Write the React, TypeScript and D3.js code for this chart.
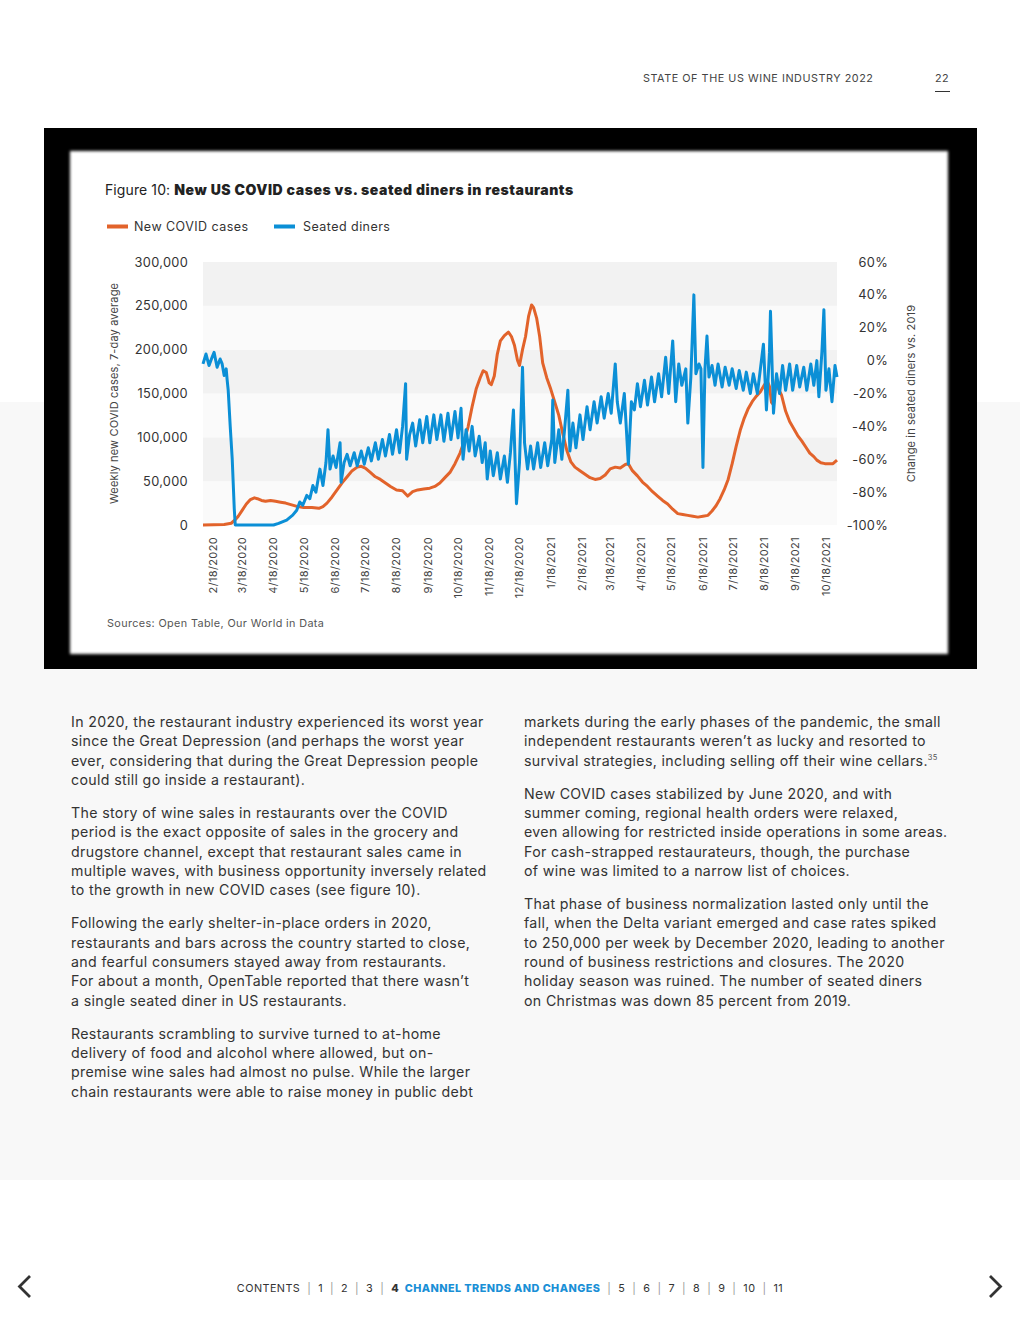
import React from 'react';
import * as d3 from 'd3';

// ---------- DATA ----------
const xTickLabels = [
  '2/18/2020', '3/18/2020', '4/18/2020', '5/18/2020', '6/18/2020', '7/18/2020', '8/18/2020',
  '9/18/2020', '10/18/2020', '11/18/2020', '12/18/2020', '1/18/2021', '2/18/2021', '3/18/2021',
  '4/18/2021', '5/18/2021', '6/18/2021', '7/18/2021', '8/18/2021', '9/18/2021', '10/18/2021',
];
const leftTicks = [0, 50000, 100000, 150000, 200000, 250000, 300000];
const rightTicks = [-100, -80, -60, -40, -20, 0, 20, 40, 60];

// New COVID cases, 7-day average (thousands)
const covidCases: [string, number][] = [
  ['2020-02-18', 0], ['2020-03-10', 0.5], ['2020-03-17', 2], ['2020-03-21', 6], ['2020-03-24', 10],
  ['2020-03-28', 17], ['2020-04-01', 24], ['2020-04-05', 29], ['2020-04-09', 31], ['2020-04-12', 30],
  ['2020-04-16', 28], ['2020-04-20', 27], ['2020-04-25', 28], ['2020-04-30', 27], ['2020-05-05', 26],
  ['2020-05-10', 25], ['2020-05-16', 23], ['2020-05-22', 21], ['2020-05-28', 20], ['2020-06-05', 20],
  ['2020-06-12', 19], ['2020-06-16', 21], ['2020-06-20', 25], ['2020-06-25', 32], ['2020-06-30', 40],
  ['2020-07-05', 48], ['2020-07-10', 55], ['2020-07-15', 62], ['2020-07-20', 66], ['2020-07-24', 67],
  ['2020-07-28', 65], ['2020-08-02', 60], ['2020-08-07', 55], ['2020-08-12', 52], ['2020-08-17', 48],
  ['2020-08-22', 44], ['2020-08-28', 40], ['2020-09-03', 39], ['2020-09-08', 33], ['2020-09-13', 38],
  ['2020-09-18', 40], ['2020-09-24', 41], ['2020-09-30', 42], ['2020-10-05', 44], ['2020-10-10', 48],
  ['2020-10-15', 54], ['2020-10-20', 60], ['2020-10-25', 70], ['2020-10-30', 82], ['2020-11-03', 95],
  ['2020-11-07', 112], ['2020-11-11', 135], ['2020-11-15', 155], ['2020-11-19', 168], ['2020-11-22', 176],
  ['2020-11-25', 174], ['2020-11-28', 162], ['2020-11-30', 160], ['2020-12-03', 170], ['2020-12-06', 195],
  ['2020-12-09', 210], ['2020-12-13', 216], ['2020-12-17', 220], ['2020-12-20', 215], ['2020-12-23', 205],
  ['2020-12-26', 188], ['2020-12-28', 182], ['2020-12-31', 200], ['2021-01-03', 215], ['2021-01-06', 238],
  ['2021-01-09', 251], ['2021-01-11', 248], ['2021-01-14', 236], ['2021-01-17', 215], ['2021-01-20', 185],
  ['2021-01-24', 168], ['2021-01-28', 155], ['2021-02-01', 140], ['2021-02-05', 125], ['2021-02-09', 104],
  ['2021-02-13', 85], ['2021-02-17', 72], ['2021-02-21', 66], ['2021-02-26', 62], ['2021-03-03', 58],
  ['2021-03-08', 54], ['2021-03-13', 52], ['2021-03-18', 53], ['2021-03-23', 57], ['2021-03-28', 64],
  ['2021-04-02', 66], ['2021-04-07', 65], ['2021-04-12', 69], ['2021-04-15', 70], ['2021-04-19', 62],
  ['2021-04-24', 56], ['2021-04-29', 49], ['2021-05-04', 44], ['2021-05-09', 38], ['2021-05-14', 33],
  ['2021-05-19', 28], ['2021-05-24', 24], ['2021-05-29', 18], ['2021-06-03', 13], ['2021-06-08', 12],
  ['2021-06-13', 11], ['2021-06-18', 10], ['2021-06-23', 9], ['2021-06-28', 10], ['2021-07-03', 11],
  ['2021-07-07', 16], ['2021-07-11', 22], ['2021-07-15', 30], ['2021-07-19', 40], ['2021-07-23', 52],
  ['2021-07-27', 70], ['2021-07-31', 90], ['2021-08-04', 108], ['2021-08-08', 122], ['2021-08-12', 133],
  ['2021-08-16', 141], ['2021-08-20', 147], ['2021-08-24', 152], ['2021-08-28', 160], ['2021-08-31', 164],
  ['2021-09-02', 158], ['2021-09-04', 140], ['2021-09-06', 137], ['2021-09-08', 160], ['2021-09-09', 167],
  ['2021-09-11', 155], ['2021-09-14', 148], ['2021-09-18', 130], ['2021-09-22', 118], ['2021-09-26', 110],
  ['2021-09-30', 102], ['2021-10-04', 96], ['2021-10-08', 89], ['2021-10-12', 82], ['2021-10-16', 78],
  ['2021-10-19', 74], ['2021-10-23', 71], ['2021-10-27', 70], ['2021-10-31', 70], ['2021-11-04', 70],
  ['2021-11-08', 74],
];

// Seated diners, % change vs. 2019
const seatedDiners: [string, number][] = [
  ['2020-02-18', -2], ['2020-02-21', 4], ['2020-02-24', -3], ['2020-02-27', 2], ['2020-02-29', 5],
  ['2020-03-03', -4], ['2020-03-06', 1], ['2020-03-08', -2], ['2020-03-10', -9], ['2020-03-12', -5],
  ['2020-03-13', -12], ['2020-03-14', -18], ['2020-03-16', -40], ['2020-03-18', -60], ['2020-03-20', -90],
  ['2020-03-21', -100], ['2020-04-28', -100], ['2020-05-03', -99], ['2020-05-11', -97], ['2020-05-17', -94],
  ['2020-05-21', -91], ['2020-05-24', -86], ['2020-05-27', -88], ['2020-05-31', -82], ['2020-06-03', -84],
  ['2020-06-06', -76], ['2020-06-09', -80], ['2020-06-13', -66], ['2020-06-16', -76], ['2020-06-19', -62],
  ['2020-06-21', -42], ['2020-06-23', -66], ['2020-06-26', -58], ['2020-06-29', -65], ['2020-07-03', -50],
  ['2020-07-04', -74], ['2020-07-07', -62], ['2020-07-10', -57], ['2020-07-13', -64], ['2020-07-17', -56],
  ['2020-07-20', -64], ['2020-07-24', -55], ['2020-07-27', -63], ['2020-07-31', -53], ['2020-08-03', -61],
  ['2020-08-07', -50], ['2020-08-10', -60], ['2020-08-14', -48], ['2020-08-17', -58], ['2020-08-21', -45],
  ['2020-08-24', -57], ['2020-08-28', -42], ['2020-08-31', -56], ['2020-09-03', -40], ['2020-09-06', -14],
  ['2020-09-07', -60], ['2020-09-10', -45], ['2020-09-13', -38], ['2020-09-16', -52], ['2020-09-20', -36],
  ['2020-09-23', -50], ['2020-09-27', -34], ['2020-09-30', -50], ['2020-10-04', -33], ['2020-10-07', -48],
  ['2020-10-11', -33], ['2020-10-14', -49], ['2020-10-18', -32], ['2020-10-21', -48], ['2020-10-25', -31],
  ['2020-10-28', -47], ['2020-10-31', -29], ['2020-11-02', -60], ['2020-11-05', -42], ['2020-11-08', -55],
  ['2020-11-11', -40], ['2020-11-14', -58], ['2020-11-18', -46], ['2020-11-21', -62], ['2020-11-24', -50],
  ['2020-11-26', -72], ['2020-11-29', -55], ['2020-12-02', -70], ['2020-12-06', -56], ['2020-12-09', -72],
  ['2020-12-13', -58], ['2020-12-16', -74], ['2020-12-19', -56], ['2020-12-22', -30], ['2020-12-25', -87],
  ['2020-12-28', -62], ['2020-12-31', -4], ['2021-01-02', -50], ['2021-01-05', -66], ['2021-01-08', -52],
  ['2021-01-11', -66], ['2021-01-15', -50], ['2021-01-18', -65], ['2021-01-22', -50], ['2021-01-25', -64],
  ['2021-01-29', -48], ['2021-01-30', -24], ['2021-02-01', -62], ['2021-02-05', -42], ['2021-02-08', -60],
  ['2021-02-11', -40], ['2021-02-14', -18], ['2021-02-16', -55], ['2021-02-19', -38], ['2021-02-22', -53],
  ['2021-02-26', -33], ['2021-03-01', -48], ['2021-03-05', -28], ['2021-03-08', -42], ['2021-03-12', -25],
  ['2021-03-15', -38], ['2021-03-19', -22], ['2021-03-22', -35], ['2021-03-26', -20], ['2021-03-29', -32],
  ['2021-04-02', -2], ['2021-04-04', -25], ['2021-04-07', -38], ['2021-04-11', -20], ['2021-04-15', -63],
  ['2021-04-18', -25], ['2021-04-21', -30], ['2021-04-24', -14], ['2021-04-27', -28], ['2021-05-01', -12],
  ['2021-05-04', -27], ['2021-05-08', -10], ['2021-05-11', -25], ['2021-05-15', -8], ['2021-05-18', -22],
  ['2021-05-22', 2], ['2021-05-25', -20], ['2021-05-29', 12], ['2021-06-01', -25], ['2021-06-04', -2],
  ['2021-06-07', -15], ['2021-06-11', -5], ['2021-06-13', -38], ['2021-06-16', -10], ['2021-06-19', 40],
  ['2021-06-21', -8], ['2021-06-24', -2], ['2021-06-26', -5], ['2021-06-28', -65], ['2021-06-30', -5],
  ['2021-07-02', 15], ['2021-07-04', -10], ['2021-07-07', -3], ['2021-07-10', -15], ['2021-07-13', -2],
  ['2021-07-17', -16], ['2021-07-20', -4], ['2021-07-24', -15], ['2021-07-27', -5], ['2021-07-31', -17],
  ['2021-08-03', -6], ['2021-08-07', -18], ['2021-08-10', -7], ['2021-08-14', -20], ['2021-08-17', -8],
  ['2021-08-21', -20], ['2021-08-24', -5], ['2021-08-27', 10], ['2021-08-30', -30], ['2021-09-02', 5],
  ['2021-09-03', 30], ['2021-09-06', -32], ['2021-09-09', -8], ['2021-09-12', -20], ['2021-09-15', -3],
  ['2021-09-18', -18], ['2021-09-22', -2], ['2021-09-25', -18], ['2021-09-29', -3], ['2021-10-02', -16],
  ['2021-10-06', -4], ['2021-10-09', -18], ['2021-10-13', -2], ['2021-10-16', -15], ['2021-10-19', 0],
  ['2021-10-21', -22], ['2021-10-24', 5], ['2021-10-26', 31], ['2021-10-28', -18], ['2021-10-31', -5],
  ['2021-11-03', -25], ['2021-11-06', -3], ['2021-11-08', -10],
];

const leftColumn = [
  ['In 2020, the restaurant industry experienced its worst year',
    'since the Great Depression (and perhaps the worst year',
    'ever, considering that during the Great Depression people',
    'could still go inside a restaurant).'],
  ['The story of wine sales in restaurants over the COVID',
    'period is the exact opposite of sales in the grocery and',
    'drugstore channel, except that restaurant sales came in',
    'multiple waves, with business opportunity inversely related',
    'to the growth in new COVID cases (see figure 10).'],
  ['Following the early shelter-in-place orders in 2020,',
    'restaurants and bars across the country started to close,',
    'and fearful consumers stayed away from restaurants.',
    'For about a month, OpenTable reported that there wasn\u2019t',
    'a single seated diner in US restaurants.'],
  ['Restaurants scrambling to survive turned to at-home',
    'delivery of food and alcohol where allowed, but on-',
    'premise wine sales had almost no pulse. While the larger',
    'chain restaurants were able to raise money in public debt'],
];
const rightColumn = [
  ['markets during the early phases of the pandemic, the small',
    'independent restaurants weren\u2019t as lucky and resorted to',
    'survival strategies, including selling off their wine cellars.'],
  ['New COVID cases stabilized by June 2020, and with',
    'summer coming, regional health orders were relaxed,',
    'even allowing for restricted inside operations in some areas.',
    'For cash-strapped restaurateurs, though, the purchase',
    'of wine was limited to a narrow list of choices.'],
  ['That phase of business normalization lasted only until the',
    'fall, when the Delta variant emerged and case rates spiked',
    'to 250,000 per week by December 2020, leading to another',
    'round of business restrictions and closures. The 2020',
    'holiday season was ruined. The number of seated diners',
    'on Christmas was down 85 percent from 2019.'],
];
const footerPages = ['1', '2', '3'];
const footerPagesAfter = ['5', '6', '7', '8', '9', '10', '11'];

// ---------- STYLE ----------
const ORANGE = '#e2632b';
const BLUE = '#0b8fd6';
const FONT = 'Inter, "Noto Sans", sans-serif';

const parse = d3.timeParse('%Y-%m-%d');
const parseLabel = d3.timeParse('%m/%d/%Y');

export default function App() {
  const plot = { left: 203, right: 837, top: 262, bottom: 525 };
  const x = d3.scaleTime()
    .domain([parse('2020-02-18') as Date, parse('2021-11-08') as Date])
    .range([plot.left, plot.right]);
  const yL = d3.scaleLinear().domain([0, 300000]).range([plot.bottom, plot.top]);
  const yR = d3.scaleLinear().domain([-100, 60]).range([plot.bottom, plot.top]);

  const covidLine = d3.line<[string, number]>()
    .x(d => x(parse(d[0]) as Date))
    .y(d => yL(d[1] * 1000));
  const dinerLine = d3.line<[string, number]>()
    .x(d => x(parse(d[0]) as Date))
    .y(d => yR(d[1]));

  const labelShift = 10;
  const fmt = d3.format(',');

  const lineH = 19.35;
  const paraGap = 13.6;
  const renderColumn = (paras: string[][], x0: number, y0: number) => {
    const out: React.ReactNode[] = [];
    let y = y0;
    paras.forEach((p, pi) => {
      p.forEach((line, li) => {
        const isLast = paras === rightColumn && pi === 0 && li === p.length - 1;
        out.push(
          <text key={`${x0}-${pi}-${li}`} x={x0} y={y} fontSize={14.2} fill="#333" fontFamily={FONT} letterSpacing={0.34}>
            {line}
            {isLast ? <tspan fontSize={7.5} dy={-6} fill="#555">35</tspan> : null}
          </text>
        );
        y += lineH;
      });
      y += paraGap;
    });
    return out;
  };

  return (
    <svg width={1020} height={1320} style={{ position: 'absolute', left: 0, top: 0 }} fontFamily={FONT}>
      <defs>
        <filter id="soft" x="-5%" y="-5%" width="110%" height="110%">
          <feGaussianBlur stdDeviation="1.8" />
        </filter>
      </defs>
      <rect x={0} y={0} width={1020} height={1320} fill="#fff" />
      <rect x={0} y={402} width={1020} height={778} fill="#f8f8f8" />

      {/* header */}
      <text x={643} y={82} fontSize={10.8} fill="#444" letterSpacing={0.55}>STATE OF THE US WINE INDUSTRY 2022</text>
      <text x={935} y={82} fontSize={10.8} fill="#444" letterSpacing={0.5}>22</text>
      <line x1={935} x2={950} y1={91.5} y2={91.5} stroke="#333" strokeWidth={1} />

      {/* frame */}
      <rect x={44} y={128} width={933} height={541} fill="#000" />
      <rect x={70} y={151} width={878} height={503} fill="#fff" filter="url(#soft)" />

      {/* title */}
      <text x={105} y={195} fontSize={14} fill="#222">
        <tspan letterSpacing={0.1}>Figure 10: </tspan>
        <tspan fontWeight={900} letterSpacing={0.55}>New US COVID cases vs. seated diners in restaurants</tspan>
      </text>

      {/* legend */}
      <rect x={107} y={224.5} width={21} height={4} fill={ORANGE} />
      <text x={134} y={231} fontSize={12.5} fill="#333" letterSpacing={0.45}>New COVID cases</text>
      <rect x={274} y={224.5} width={21} height={4} fill={BLUE} />
      <text x={303} y={231} fontSize={12.5} fill="#333" letterSpacing={0.45}>Seated diners</text>

      {/* bands */}
      {leftTicks.slice(0, -1).map((t, i) => (
        <rect key={t} x={plot.left} width={plot.right - plot.left}
          y={yL(leftTicks[i + 1])} height={yL(t) - yL(leftTicks[i + 1])}
          fill={i % 2 === 1 ? '#f2f2f2' : '#fafafa'} />
      ))}

      {/* left axis */}
      {leftTicks.map(t => (
        <text key={t} x={188} y={yL(t)} dy="0.36em" textAnchor="end" fontSize={12.8} fill="#333" letterSpacing={0.3}>{fmt(t)}</text>
      ))}
      <text transform={`translate(114,${(plot.top + plot.bottom) / 2}) rotate(-90)`} textAnchor="middle" dy="0.35em"
        fontSize={11} fill="#444" letterSpacing={0.15}>Weekly new COVID cases, 7-day average</text>

      {/* right axis */}
      {rightTicks.map(t => (
        <text key={t} x={888} y={yR(t)} dy="0.36em" textAnchor="end" fontSize={12.8} fill="#333" letterSpacing={0.3}>{t}%</text>
      ))}
      <text transform={`translate(911,${(plot.top + plot.bottom) / 2}) rotate(-90)`} textAnchor="middle" dy="0.35em"
        fontSize={11} fill="#444" letterSpacing={0.15}>Change in seated diners vs. 2019</text>

      {/* x labels */}
      {xTickLabels.map(l => (
        <text key={l} transform={`translate(${x(parseLabel(l) as Date) + labelShift},537) rotate(-90)`}
          textAnchor="end" dy="0.35em" fontSize={11} fill="#444" letterSpacing={0.35}>{l}</text>
      ))}

      {/* lines */}
      <path d={covidLine(covidCases) || ''} fill="none" stroke={ORANGE} strokeWidth={3} strokeLinejoin="round" />
      <path d={dinerLine(seatedDiners) || ''} fill="none" stroke={BLUE} strokeWidth={3} strokeLinejoin="round" />

      {/* source */}
      <text x={107} y={627} fontSize={10.8} fill="#555" letterSpacing={0.38}>Sources: Open Table, Our World in Data</text>

      {/* body */}
      {renderColumn(leftColumn, 71, 727)}
      {renderColumn(rightColumn, 524, 727)}

      {/* footer */}
      <text x={510} y={1292} textAnchor="middle" fontSize={10.8} fill="#333" letterSpacing={0.45} style={{ whiteSpace: 'pre' }}>
        <tspan>CONTENTS</tspan>
        {footerPages.map(p => (
          <React.Fragment key={p}><tspan fill="#999">{'  |  '}</tspan><tspan>{p}</tspan></React.Fragment>
        ))}
        <tspan fill="#999">{'  |  '}</tspan>
        <tspan fontWeight={800}>4</tspan>
        <tspan fontWeight={800} fill="#1a8fd6">{'  CHANNEL TRENDS AND CHANGES'}</tspan>
        {footerPagesAfter.map(p => (
          <React.Fragment key={p}><tspan fill="#999">{'  |  '}</tspan><tspan>{p}</tspan></React.Fragment>
        ))}
      </text>
      <polyline points="30,1276 19.5,1286.5 30,1297" fill="none" stroke="#333" strokeWidth={2.8} />
      <polyline points="990,1276 1000.5,1286.5 990,1297" fill="none" stroke="#333" strokeWidth={2.8} />
    </svg>
  );
}
